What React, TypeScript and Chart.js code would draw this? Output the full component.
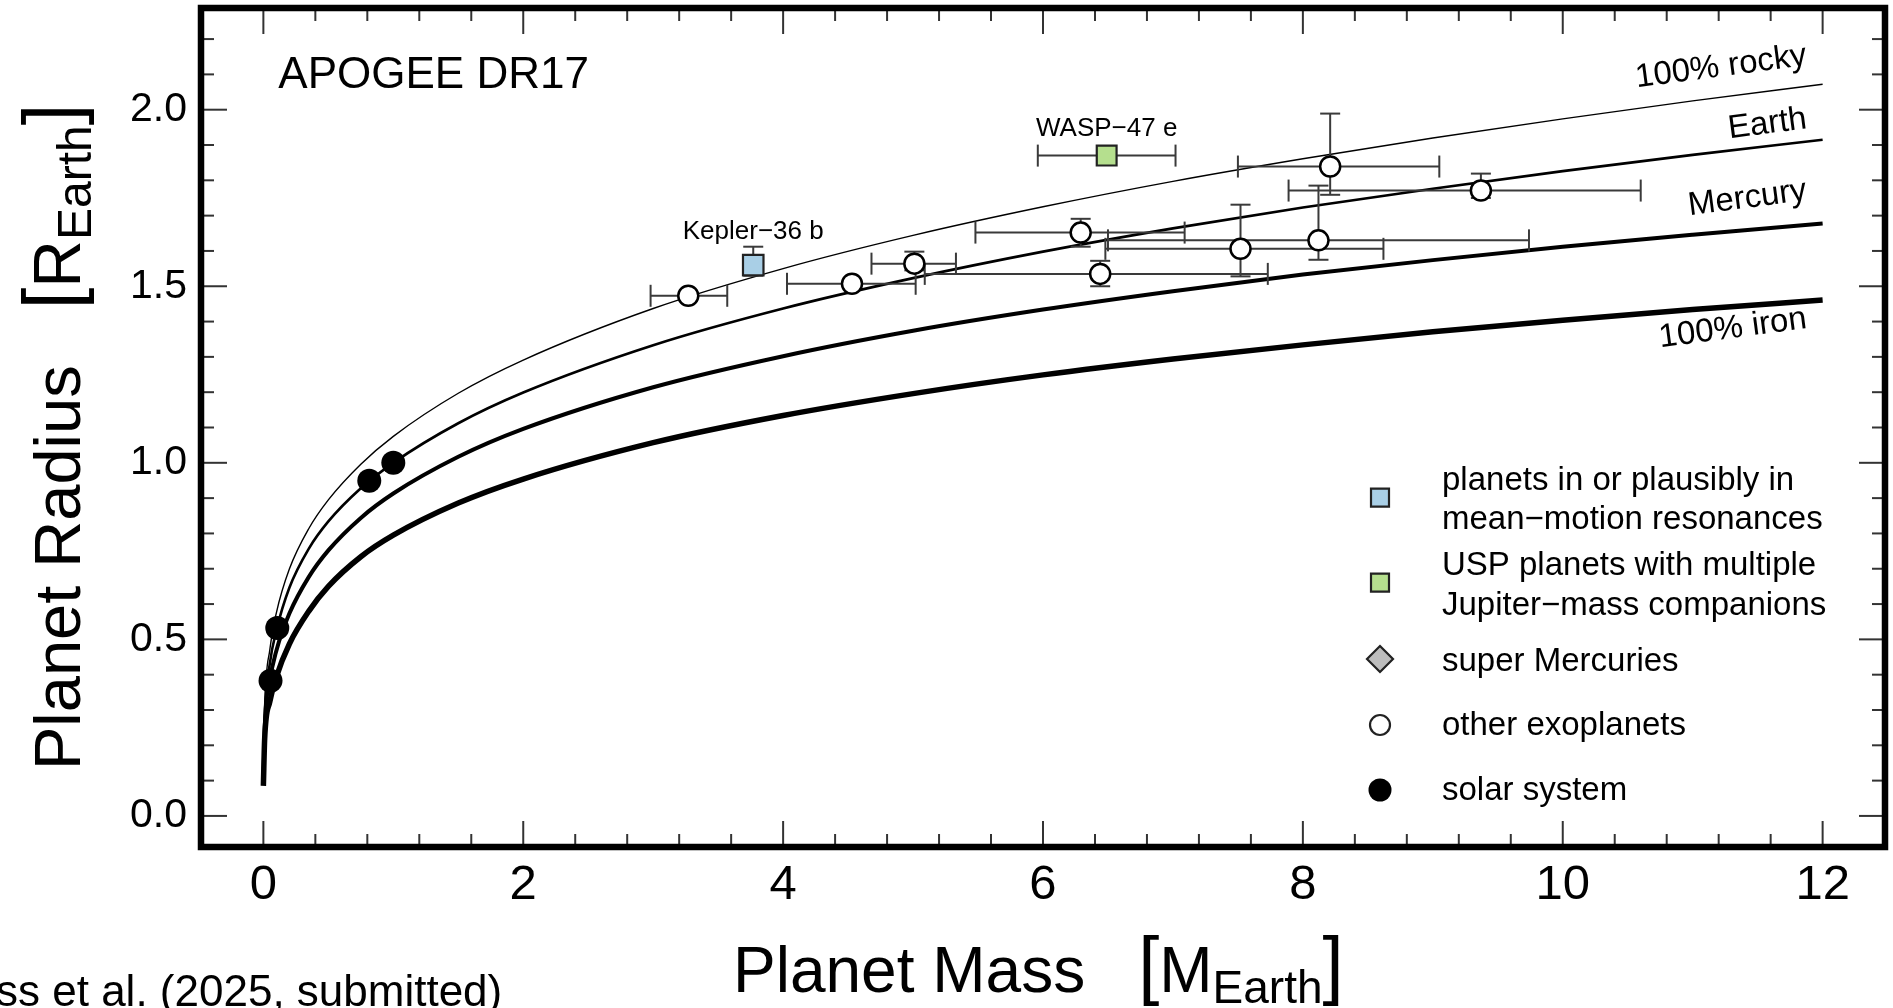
import React, { useEffect, useRef } from 'react';
import { Chart, registerables } from 'chart.js';

Chart.register(...registerables);

const FONT = '"Liberation Sans", Arial, Helvetica, sans-serif';

// ---- composition curves (mass in M_Earth, radius in R_Earth) ----
const curveMass = [0.0001, 0.01, 0.05, 0.1, 0.2, 0.35, 0.5, 0.75, 1, 1.5, 2, 3, 4, 5, 6, 7, 8, 9, 10, 11, 12];
const rockyRadius = [0.095, 0.296, 0.472, 0.575, 0.699, 0.814, 0.895, 0.996, 1.075, 1.197, 1.291, 1.437, 1.55, 1.644, 1.725, 1.797, 1.861, 1.92, 1.974, 2.025, 2.072];
const earthRadius = [0.09, 0.275, 0.432, 0.525, 0.646, 0.757, 0.834, 0.928, 1.0, 1.112, 1.199, 1.333, 1.437, 1.523, 1.598, 1.664, 1.723, 1.776, 1.826, 1.872, 1.915];
const mercuryRadius = [0.088, 0.246, 0.383, 0.468, 0.573, 0.677, 0.752, 0.844, 0.913, 1.017, 1.096, 1.214, 1.302, 1.374, 1.434, 1.486, 1.533, 1.574, 1.612, 1.646, 1.678];
const ironRadius = [0.085, 0.219, 0.324, 0.394, 0.487, 0.58, 0.65, 0.734, 0.795, 0.886, 0.954, 1.057, 1.134, 1.196, 1.249, 1.294, 1.334, 1.371, 1.404, 1.434, 1.461];

const curveLabels = ['100% rocky', 'Earth', 'Mercury', '100% iron'];
const curveLabelMass = [11.885, 11.885, 11.885, 11.885];
const curveLabelRadius = [2.127, 1.948, 1.745, 1.382];

// ---- other exoplanets ----
const otherMass = [3.27, 4.53, 5.01, 6.29, 6.44, 7.52, 8.12, 8.21, 9.37];
const otherRadius = [1.473, 1.507, 1.564, 1.652, 1.535, 1.606, 1.63, 1.839, 1.771];
const otherMassLo = [2.98, 4.03, 4.68, 5.48, 5.09, 6.48, 6.5, 7.5, 7.89];
const otherMassHi = [3.57, 5.02, 5.33, 7.09, 7.73, 8.62, 9.74, 9.05, 10.6];
const otherRadiusLo = [null, null, 1.545, 1.612, 1.5, 1.528, 1.575, 1.759, 1.75];
const otherRadiusHi = [null, null, 1.598, 1.691, 1.572, 1.731, 1.785, 1.989, 1.819];

// ---- resonant planet ----
const resonantName = ['Kepler\u221236 b'];
const resonantMass = [3.77];
const resonantRadius = [1.56];
const resonantRadiusLo = [1.53];
const resonantRadiusHi = [1.612];

// ---- USP planet ----
const uspName = ['WASP\u221247 e'];
const uspMass = [6.49];
const uspRadius = [1.87];
const uspMassLo = [5.96];
const uspMassHi = [7.02];

// ---- solar system ----
const solarMass = [0.055, 0.107, 0.815, 1.0];
const solarRadius = [0.383, 0.532, 0.949, 1.0];

// ---- ticks ----
const xTickValues = [0, 2, 4, 6, 8, 10, 12];
const yTickValues = [0, 0.5, 1.0, 1.5, 2.0];
const xMinorTickValues = Array.from({ length: 31 }, (_, i) => +(i * 0.4).toFixed(1));
const yMinorTickValues = Array.from({ length: 23 }, (_, i) => +(i * 0.1).toFixed(1));

const legendLines = [
  ['planets in or plausibly in', 'mean\u2212motion resonances'],
  ['USP planets with multiple', 'Jupiter\u2212mass companions'],
  ['super Mercuries'],
  ['other exoplanets'],
  ['solar system'],
];
const legendKinds = ['square', 'square', 'diamond', 'circle', 'dot'];
const legendFills = ['#a9cfe6', '#b5df8e', '#bdbdbd', '#ffffff', '#000000'];

const BLUE = '#a9cfe6';
const GREEN = '#b5df8e';

const pts = (xs: number[], ys: number[]) => xs.map((x, i) => ({ x, y: ys[i] }));

function line(ctx: CanvasRenderingContext2D, x1: number, y1: number, x2: number, y2: number) {
  ctx.beginPath();
  ctx.moveTo(x1, y1);
  ctx.lineTo(x2, y2);
  ctx.stroke();
}

function drawParts(ctx: CanvasRenderingContext2D, parts: any[], x: number, y: number) {
  let cx = x;
  for (const p of parts) {
    ctx.font = `${p.size}px ${FONT}`;
    ctx.fillText(p.text, cx, y + (p.dy || 0));
    cx += ctx.measureText(p.text).width + (p.gap || 0);
  }
}

const errorBarPlugin = {
  id: 'errorBars',
  beforeDatasetDraw(chart: any, args: any) {
    const ds = chart.data.datasets[args.index];
    if (!ds || ds.label !== 'other exoplanets') return;
    const { ctx, scales } = chart;
    const X = (v: number) => scales.x.getPixelForValue(v);
    const Y = (v: number) => scales.y.getPixelForValue(v);
    ctx.save();
    ctx.strokeStyle = '#3a3a3a';
    ctx.lineWidth = 2;
    const hbar = (lo: number, hi: number, r: number) => {
      const py = Y(r);
      line(ctx, X(lo), py, X(hi), py);
      line(ctx, X(lo), py - 11, X(lo), py + 11);
      line(ctx, X(hi), py - 11, X(hi), py + 11);
    };
    const vbar = (m: number, lo: number, hi: number) => {
      const px = X(m);
      line(ctx, px, Y(lo), px, Y(hi));
      line(ctx, px - 10, Y(lo), px + 10, Y(lo));
      line(ctx, px - 10, Y(hi), px + 10, Y(hi));
    };
    otherMass.forEach((m, i) => {
      hbar(otherMassLo[i], otherMassHi[i], otherRadius[i]);
      const lo = otherRadiusLo[i];
      const hi = otherRadiusHi[i];
      if (lo != null && hi != null) vbar(m, lo, hi);
    });
    resonantMass.forEach((m, i) => vbar(m, resonantRadiusLo[i], resonantRadiusHi[i]));
    uspMass.forEach((m, i) => hbar(uspMassLo[i], uspMassHi[i], uspRadius[i]));
    ctx.restore();
  },
};

const decorPlugin = {
  id: 'decor',
  afterDraw(chart: any) {
    const { ctx, chartArea: a, scales } = chart;
    const X = (v: number) => scales.x.getPixelForValue(v);
    const Y = (v: number) => scales.y.getPixelForValue(v);
    ctx.save();

    // inward ticks on all four sides
    ctx.strokeStyle = '#333';
    ctx.lineWidth = 2;
    const MINOR = 13;
    const MAJOR = 26;
    xMinorTickValues.forEach((v) => {
      const px = X(v);
      const len = xTickValues.includes(v) ? MAJOR : MINOR;
      line(ctx, px, a.bottom, px, a.bottom - len);
      line(ctx, px, a.top, px, a.top + len);
    });
    yMinorTickValues.forEach((v) => {
      const py = Y(v);
      const len = yTickValues.includes(v) ? MAJOR : MINOR;
      line(ctx, a.left, py, a.left + len, py);
      line(ctx, a.right, py, a.right - len, py);
    });

    // frame
    ctx.strokeStyle = '#000';
    ctx.lineWidth = 6.5;
    ctx.strokeRect(a.left, a.top, a.right - a.left, a.bottom - a.top);

    ctx.fillStyle = '#000';
    ctx.textAlign = 'left';
    ctx.textBaseline = 'alphabetic';

    // panel title
    ctx.font = `44px ${FONT}`;
    ctx.fillText('APOGEE DR17', X(0.115), Y(2.062));

    // planet names
    ctx.font = `26px ${FONT}`;
    ctx.textAlign = 'center';
    resonantName.forEach((n, i) => ctx.fillText(n, X(resonantMass[i]), Y(resonantRadiusHi[i]) - 8));
    uspName.forEach((n, i) => ctx.fillText(n, X(uspMass[i]), Y(uspRadius[i]) - 20));

    // curve labels
    ctx.font = `33px ${FONT}`;
    ctx.textAlign = 'right';
    curveLabels.forEach((t, i) => {
      ctx.save();
      ctx.translate(X(curveLabelMass[i]), Y(curveLabelRadius[i]));
      ctx.rotate(-7.5 * Math.PI / 180);
      ctx.fillText(t, 0, 0);
      ctx.restore();
    });

    // legend
    const lx = 1380;
    const tx = 1442;
    const markerY = [497.7, 582.7, 659, 725, 790];
    const textY = [[490, 529], [575, 615], [671], [735], [800]];
    ctx.textAlign = 'left';
    ctx.font = `33px ${FONT}`;
    legendKinds.forEach((k, i) => {
      const my = markerY[i];
      ctx.fillStyle = legendFills[i];
      ctx.strokeStyle = '#222';
      ctx.lineWidth = 2.2;
      ctx.beginPath();
      if (k === 'square') {
        ctx.rect(lx - 9, my - 9, 18, 18);
        ctx.fill();
        ctx.stroke();
      } else if (k === 'diamond') {
        ctx.moveTo(lx, my - 13);
        ctx.lineTo(lx + 13, my);
        ctx.lineTo(lx, my + 13);
        ctx.lineTo(lx - 13, my);
        ctx.closePath();
        ctx.fill();
        ctx.stroke();
      } else if (k === 'circle') {
        ctx.arc(lx, my, 10, 0, Math.PI * 2);
        ctx.fill();
        ctx.stroke();
      } else {
        ctx.arc(lx, my, 11.5, 0, Math.PI * 2);
        ctx.fill();
      }
      ctx.fillStyle = '#000';
      legendLines[i].forEach((t, j) => ctx.fillText(t, tx, textY[i][j]));
    });

    // x axis title
    ctx.fillStyle = '#000';
    drawParts(ctx, [
      { text: 'Planet Mass', size: 64, gap: 53 },
      { text: '[', size: 76, dy: -2 },
      { text: 'M', size: 64 },
      { text: 'Earth', size: 46, dy: 11 },
      { text: ']', size: 76, dy: -2 },
    ], 733, 992);

    // y axis title
    ctx.save();
    ctx.translate(80, 770);
    ctx.rotate(-Math.PI / 2);
    drawParts(ctx, [
      { text: 'Planet Radius', size: 65, gap: 56 },
      { text: '[', size: 78, dy: -2 },
      { text: 'R', size: 66 },
      { text: 'Earth', size: 48, dy: 11 },
      { text: ']', size: 78, dy: -2 },
    ], 0, 0);
    ctx.restore();

    // footer note
    ctx.font = `44px ${FONT}`;
    ctx.fillText('ss et al. (2025, submitted)', -4, 1006);

    ctx.restore();
  },
};

export default function App() {
  const ref = useRef<HTMLCanvasElement>(null);
  useEffect(() => {
    const canvas = ref.current;
    if (!canvas) return;
    const curve = (label: string, ys: number[], w: number, order: number) => ({
      label,
      data: pts(curveMass, ys),
      showLine: true,
      borderColor: '#000',
      borderWidth: w,
      pointRadius: 0,
      fill: false,
      cubicInterpolationMode: 'monotone',
      order,
    });
    const chart = new Chart(canvas, {
      type: 'scatter',
      data: {
        datasets: [
          curve('100% rocky', rockyRadius, 1.4, 13),
          curve('Earth', earthRadius, 2.6, 12),
          curve('Mercury', mercuryRadius, 4.0, 11),
          curve('100% iron', ironRadius, 5.5, 10),
          {
            label: 'other exoplanets',
            data: pts(otherMass, otherRadius),
            pointRadius: 10,
            pointBorderWidth: 2.5,
            pointBackgroundColor: '#ffffff',
            pointBorderColor: '#000',
            order: 5,
          },
          {
            label: 'resonant',
            data: pts(resonantMass, resonantRadius),
            pointStyle: 'rect',
            pointRadius: 14.5,
            pointBorderWidth: 2.2,
            pointBackgroundColor: BLUE,
            pointBorderColor: '#222',
            order: 4,
          },
          {
            label: 'USP',
            data: pts(uspMass, uspRadius),
            pointStyle: 'rect',
            pointRadius: 14,
            pointBorderWidth: 2.2,
            pointBackgroundColor: GREEN,
            pointBorderColor: '#222',
            order: 3,
          },
          {
            label: 'solar system',
            data: pts(solarMass, solarRadius),
            pointRadius: 12,
            pointBorderWidth: 0,
            pointBackgroundColor: '#000',
            pointBorderColor: '#000',
            order: 2,
          },
        ],
      },
      options: {
        responsive: false,
        animation: false,
        devicePixelRatio: 1,
        events: [],
        layout: { autoPadding: false, padding: { top: 8, right: 8, left: 0, bottom: 0 } },
        plugins: { legend: { display: false }, tooltip: { enabled: false } },
        scales: {
          x: {
            type: 'linear',
            min: -0.48,
            max: 12.48,
            grid: { display: false, drawTicks: false },
            border: { display: false },
            afterBuildTicks: (s: any) => { s.ticks = xTickValues.map((v) => ({ value: v })); },
            afterFit: (s: any) => {
              s.height = 161;
              s.paddingLeft = 0;
              s.paddingRight = 0;
              s.paddingTop = 0;
              s.paddingBottom = 0;
            },
            ticks: {
              autoSkip: false,
              maxRotation: 0,
              padding: 9,
              color: '#000',
              font: { family: FONT, size: 49 },
              callback: (v: any) => String(v),
            },
          },
          y: {
            type: 'linear',
            min: -0.088,
            max: 2.288,
            grid: { display: false, drawTicks: false },
            border: { display: false },
            afterBuildTicks: (s: any) => { s.ticks = yTickValues.map((v) => ({ value: v })); },
            afterFit: (s: any) => {
              s.width = 201;
              s.paddingLeft = 0;
              s.paddingRight = 0;
              s.paddingTop = 0;
              s.paddingBottom = 0;
            },
            ticks: {
              autoSkip: false,
              padding: 14,
              color: '#000',
              font: { family: FONT, size: 41 },
              callback: (v: any) => Number(v).toFixed(1),
            },
          },
        },
      },
      plugins: [errorBarPlugin, decorPlugin],
    } as any);
    return () => chart.destroy();
  }, []);
  return (
    <div style={{ position: 'fixed', left: 0, top: 0, width: 1893, height: 1008, background: '#fff' }}>
      <canvas ref={ref} width={1893} height={1008} style={{ width: 1893, height: 1008, display: 'block' }} />
    </div>
  );
}
